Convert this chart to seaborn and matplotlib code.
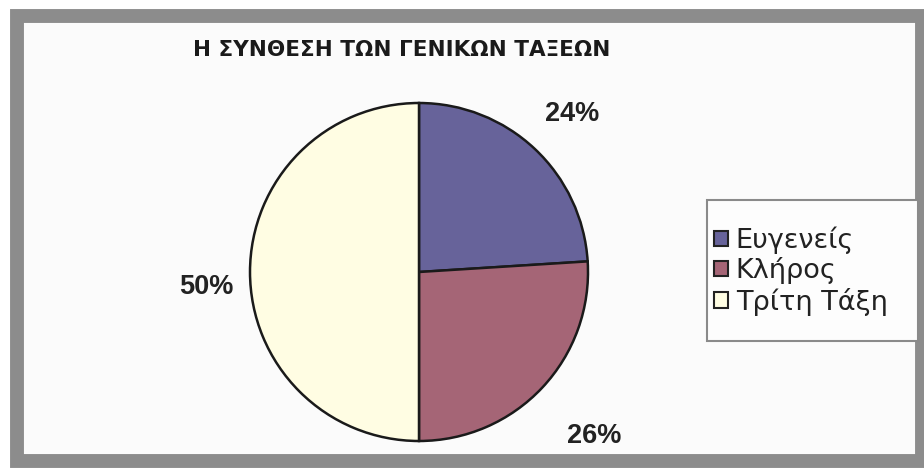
import matplotlib
matplotlib.use("Agg")
import matplotlib.pyplot as plt
import seaborn as sns
import numpy as np
from matplotlib.patches import Rectangle, Patch

# Dados do gráfico
categorias = ["Ευγενείς", "Κλήρος", "Τρίτη Τάξη"]
percentuais = [24, 26, 50]
cores = ["#67639a", "#a56576", "#fffde3"]
titulo = "Η ΣΥΝΘΕΣΗ ΤΩΝ ΓΕΝΙΚΩΝ ΤΑΞΕΩΝ"

sns.set_theme(style="white")
plt.rcParams["font.family"] = ["Liberation Sans", "DejaVu Sans"]

W, H = 924, 468
fig = plt.figure(figsize=(W / 100, H / 100), dpi=100)
fig.patch.set_facecolor("white")

# moldura cinza em volta do gráfico
moldura = Rectangle((17 / W, 1 - 461 / H), (922 - 17) / W, (461 - 16) / H,
                    transform=fig.transFigure, fill=True, facecolor="#fbfbfb",
                    edgecolor="#8c8c8c", linewidth=10, zorder=-5)
fig.patches.append(moldura)

fig.text(402 / W, 1 - 50 / H, titulo, ha="center", va="center",
         fontsize=15.5, fontweight="bold", color="#1a1a1a", family="DejaVu Sans")

# eixo da pizza: centro (419, 272), raio 169 px
cx, cy, r = 419, 272, 169
ax = fig.add_axes([(cx - r) / W, 1 - (cy + r) / H, 2 * r / W, 2 * r / H])
ax.set_zorder(2)
wedges, textos = ax.pie(percentuais, colors=cores, startangle=90, counterclock=False,
                        wedgeprops=dict(edgecolor="#1a1a1a", linewidth=1.8))
ax.set_xlim(-1, 1)
ax.set_ylim(-1, 1)
ax.set_aspect("equal")
ax.axis("off")

# rótulos de porcentagem fora da pizza
distancias = [1.3, 1.42, 1.26]
desvio = [-1, 0, 4]
for w, p, d, dv in zip(wedges, percentuais, distancias, desvio):
    ang = np.deg2rad((w.theta1 + w.theta2) / 2 + dv)
    ax.text(d * np.cos(ang), d * np.sin(ang), f"{p}%", ha="center", va="center",
            fontsize=19.5, fontweight="bold", color="#222222")

# caixa da legenda
caixa = Rectangle((707 / W, 1 - 341 / H), (918 - 707) / W, (341 - 200) / H,
                  transform=fig.transFigure, facecolor="#fdfdfd",
                  edgecolor="#8a8a8a", linewidth=1.5, zorder=1)
fig.patches.append(caixa)

handles = [Patch(facecolor=c, edgecolor="#222222", linewidth=1.5) for c in cores]
leg = fig.legend(handles, categorias, loc="center left",
                 bbox_to_anchor=(714 / W, 1 - 271 / H),
                 prop=dict(family="DejaVu Sans", size=19.5),
                 frameon=False,
                 handlelength=0.5, handleheight=0.5, handletextpad=0.3,
                 labelspacing=0.12, borderpad=0.0, borderaxespad=0)
leg.set_zorder(3)
for t in leg.get_texts():
    t.set_color("#222222")

fig.savefig("out.png", dpi=100)
